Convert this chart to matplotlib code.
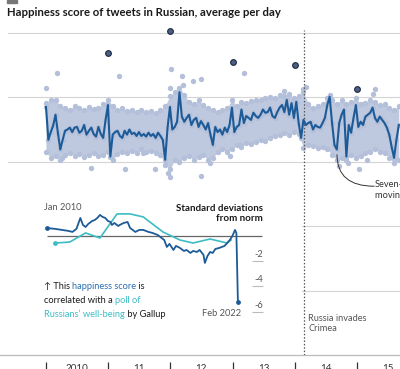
import matplotlib.pyplot as plt
from matplotlib.offsetbox import TextArea, HPacker, VPacker, AnchoredOffsetbox
from matplotlib.patches import Rectangle
import pandas as pd

plt.rcParams['font.family'] = ['Lato', 'DejaVu Sans']

# seven-day moving average, one reading every 14 days from 1 Jan 2010
ma_start = '2010-01-01'
ma_values = [5.885, 5.834, 5.846, 5.856, 5.873, 5.845, 5.819, 5.834, 5.848, 5.850,
             5.853, 5.846, 5.853, 5.854, 5.845, 5.848, 5.857, 5.842, 5.848, 5.853,
             5.843, 5.839, 5.854, 5.843, 5.837, 5.865, 5.888, 5.808, 5.842, 5.846,
             5.848, 5.840, 5.837, 5.848, 5.842, 5.850, 5.843, 5.845, 5.840, 5.846,
             5.840, 5.843, 5.839, 5.845, 5.840, 5.843, 5.837, 5.845, 5.840, 5.834,
             5.803, 5.853, 5.885, 5.850, 5.854, 5.862, 5.908, 5.870, 5.862, 5.868,
             5.873, 5.857, 5.865, 5.868, 5.854, 5.863, 5.857, 5.850, 5.860, 5.842,
             5.826, 5.854, 5.846, 5.850, 5.842, 5.853, 5.846, 5.857, 5.884, 5.846,
             5.854, 5.857, 5.881, 5.860, 5.871, 5.868, 5.865, 5.876, 5.871, 5.868,
             5.873, 5.881, 5.876, 5.877, 5.884, 5.871, 5.868, 5.877, 5.884, 5.888,
             5.877, 5.896, 5.873, 5.891, 5.868, 5.893, 5.860, 5.837, 5.865, 5.857,
             5.860, 5.862, 5.850, 5.857, 5.854, 5.853, 5.860, 5.868, 5.888, 5.901,
             5.860, 5.826, 5.819, 5.860, 5.873, 5.881, 5.808, 5.857, 5.845, 5.868,
             5.888, 5.854, 5.862, 5.857, 5.870, 5.873, 5.876, 5.884, 5.868, 5.862,
             5.870, 5.865, 5.860, 5.853, 5.842, 5.823, 5.806, 5.834, 5.857]

# range of the daily scores, highest and lowest per 28 days
daily_high = [5.891, 5.896, 5.896, 5.887, 5.884, 5.881, 5.887, 5.884, 5.881, 5.885,
              5.882, 5.884, 5.890, 5.896, 5.887, 5.881, 5.884, 5.879, 5.881, 5.877,
              5.881, 5.877, 5.879, 5.876, 5.881, 5.887, 5.902, 5.908, 5.915, 5.904,
              5.893, 5.890, 5.896, 5.888, 5.884, 5.881, 5.877, 5.881, 5.884, 5.896,
              5.887, 5.893, 5.891, 5.894, 5.896, 5.896, 5.899, 5.901, 5.899, 5.904,
              5.902, 5.905, 5.899, 5.902, 5.908, 5.890, 5.884, 5.887, 5.890, 5.899,
              5.896, 5.890, 5.896, 5.890, 5.893, 5.899, 5.890, 5.891, 5.896, 5.893,
              5.888, 5.890, 5.884, 5.881, 5.887]
daily_low = [5.815, 5.806, 5.809, 5.803, 5.811, 5.814, 5.809, 5.812, 5.808, 5.811,
             5.814, 5.809, 5.811, 5.815, 5.803, 5.812, 5.815, 5.814, 5.817, 5.814,
             5.819, 5.815, 5.817, 5.814, 5.811, 5.795, 5.788, 5.803, 5.800, 5.806,
             5.809, 5.803, 5.808, 5.811, 5.803, 5.806, 5.815, 5.819, 5.815, 5.819,
             5.826, 5.823, 5.829, 5.828, 5.831, 5.834, 5.832, 5.837, 5.840, 5.842,
             5.845, 5.842, 5.846, 5.843, 5.822, 5.826, 5.825, 5.822, 5.823, 5.819,
             5.811, 5.803, 5.806, 5.803, 5.811, 5.806, 5.809, 5.814, 5.815, 5.819,
             5.815, 5.814, 5.806, 5.798, 5.803]

# single days that stand outside the range
stray_dates = ['2010-01-01', '2010-03-07', '2010-04-05', '2010-09-22', '2011-03-06',
               '2011-04-10', '2011-07-25', '2011-10-03', '2011-12-18', '2011-12-28',
               '2011-12-30', '2012-01-05', '2012-03-10', '2012-03-14', '2012-05-13',
               '2012-06-29', '2012-07-02', '2012-08-21', '2012-12-16', '2013-02-13',
               '2013-03-09', '2013-10-30', '2014-02-18', '2014-03-08', '2014-07-27',
               '2014-09-17', '2014-11-09', '2015-01-13', '2015-03-01', '2015-04-05',
               '2015-04-17']
stray_values = [5.915, 5.938, 5.806, 5.791, 5.933, 5.788, 5.814, 5.789, 5.783, 5.777,
                5.915, 5.944, 5.933, 5.919, 5.925, 5.929, 5.778, 5.798, 5.809, 5.826,
                5.938, 5.910, 5.913, 5.916, 5.904, 5.794, 5.798, 5.788, 5.803, 5.905,
                5.913]

# New Year's Day
ny_dates = ['2011-01-01', '2012-01-01', '2013-01-01', '2014-01-01', '2015-01-01']
ny_values = [5.969, 6.003, 5.955, 5.950, 5.913]

year_labels = ['2010', '11', '12', '13', '14', '15']
crimea_date = '2014-02-27'

# inset: standard deviations from norm
happy_dates = ['2010-01-01', '2010-07-15', '2010-12-15', '2011-05-15', '2011-08-15',
               '2011-11-15', '2012-02-15', '2012-04-15', '2012-06-15', '2012-08-15',
               '2012-11-15', '2013-01-15', '2013-03-15', '2013-05-15', '2013-07-15',
               '2013-09-15', '2013-11-15', '2014-01-15', '2014-02-15', '2014-04-15',
               '2014-07-15', '2014-08-15', '2014-11-15', '2015-02-15', '2015-04-15',
               '2015-06-15', '2015-08-15', '2015-11-15', '2016-02-15', '2016-06-15',
               '2016-09-15', '2017-01-15', '2017-04-15', '2017-06-15', '2017-08-15',
               '2017-10-15', '2018-01-15', '2018-03-15', '2018-06-15', '2018-09-15',
               '2018-11-15', '2019-02-15', '2019-04-15', '2019-07-15', '2019-09-15',
               '2019-12-15', '2020-01-15', '2020-03-15', '2020-05-15', '2020-07-15',
               '2020-09-15', '2020-12-15', '2021-04-15', '2021-06-15', '2021-08-15',
               '2021-10-15', '2021-12-15', '2022-01-15', '2022-02-20']
happy_sd = [0.63, 0.56, 0.48, 0.40, 0.32, 0.56, 1.43, 0.87, 0.71, 0.95,
            1.19, 1.27, 1.43, 1.67, 1.51, 1.43, 1.19, 1.11, 0.87, 1.03,
            0.79, 0.87, 1.03, 1.11, 0.63, 0.48, 0.32, 0.48, 0.48, 0.32,
            0.24, 0.08, -0.16, -0.32, -0.87, -0.63, -1.11, -0.79, -0.95, -1.19,
            -1.11, -1.35, -1.19, -1.27, -1.11, -1.51, -2.14, -1.59, -1.27, -1.35,
            -1.03, -0.95, -0.79, -0.56, -0.32, 0.0, 0.48, 0.24, -5.24]
gallup_dates = ['2010-07-15', '2011-06-15', '2012-06-15', '2013-05-15', '2014-06-15',
                '2015-04-15', '2016-02-15', '2017-05-15', '2018-06-15', '2019-04-15',
                '2020-05-15', '2021-06-15', '2021-09-15']
gallup_sd = [-0.56, -0.48, 0.24, -0.16, 1.75, 1.75, 1.51, 0.32, -0.32, -0.56,
             -0.24, -0.56, -0.32]
sd_ticks = [-2, -4, -6]

blue = '#1d5b98'
light = '#b4c0da'
fill_c = '#bec8de'
teal = '#3dbcc4'
grey_txt = '#555555'
dark = '#1a1a1a'
fs = 6.7

fig = plt.figure(figsize=(4, 3.69), dpi=100)
fig.add_artist(Rectangle((7 / 400, 366 / 369), 10 / 400, 3 / 369,
                         transform=fig.transFigure, color='#777777'))
fig.text(7 / 400, 357 / 369, 'Happiness score of tweets in Russian, average per day',
         fontsize=8.2, fontweight='bold', color=dark, ha='left', va='center')

# main chart
ax = fig.add_axes([0, 14 / 369, 1, 335 / 369])
jan = pd.Timestamp('2010-01-01')
ax.set_xlim(jan - pd.Timedelta(days=270), jan + pd.Timedelta(days=2079))
ax.set_ylim(5.5, 6.02)
for s in ax.spines.values():
    s.set_visible(False)
ax.spines['bottom'].set_position(('outward', 5))
ax.set_yticks([])

for v in [5.6, 5.7, 5.8, 5.9, 6.0]:
    ax.axhline(v, xmin=8 / 400, xmax=1, color='#d4d4d4', lw=0.8, zorder=0)
ax.axhline(5.5, color='#bbbbbb', lw=0.9, zorder=0, clip_on=False)

ma_dates = pd.date_range(ma_start, periods=len(ma_values), freq='14D')
band_dates = pd.date_range(ma_start, periods=len(daily_high), freq='28D')
ax.fill_between(band_dates, daily_low, daily_high, color=fill_c, lw=0, zorder=1)
ax.scatter(band_dates, daily_high, s=15, color=light, lw=0, zorder=1)
ax.scatter(band_dates, daily_low, s=15, color=light, lw=0, zorder=1)
ax.scatter(ma_dates, ma_values, s=15, color=light, lw=0, zorder=1)
ax.scatter(pd.to_datetime(stray_dates), stray_values, s=15, color=light, lw=0, zorder=1)
ax.plot(ma_dates, ma_values, color=blue, lw=1.5, zorder=3)
ax.scatter(pd.to_datetime(ny_dates), ny_values, s=17, color='#4e5e7e',
           edgecolor='#1b2a44', lw=0.8, zorder=4)

crimea = pd.Timestamp(crimea_date)
ax.axvline(crimea, ymin=0, ymax=(6.005 - 5.5) / 0.52, color=grey_txt, lw=0.9,
           ls=(0, (1.2, 1.5)), zorder=2)
ax.annotate('Russia invades\nCrimea', xy=(crimea, 5.5), xytext=(4, 22),
            textcoords='offset pixels', ha='left', va='bottom', fontsize=fs,
            color=grey_txt, linespacing=1.2)

ax.annotate('', xy=(pd.Timestamp('2014-09-06'), 5.811),
            xytext=(pd.Timestamp('2015-04-12'), 5.762),
            arrowprops=dict(arrowstyle='-', color='#333333', lw=0.7, shrinkA=0,
                            shrinkB=0, connectionstyle='angle3,angleA=0,angleB=90'))
ax.text(pd.Timestamp('2015-04-17'), 5.771, 'Seven-day\nmoving average', fontsize=fs,
        color='#333333', ha='left', va='top', linespacing=1.2)

years = pd.date_range('2010-01-01', periods=6, freq='YS')
mids = years + pd.Timedelta(days=182)
ax.set_xticks(years, labels=[''] * 6)
ax.set_xticks(mids, labels=year_labels, minor=True)
ax.tick_params(axis='x', which='major', length=10, width=0.9, color='#333333')
ax.tick_params(axis='x', which='minor', length=0, pad=1.5, labelsize=fs + 0.4,
               labelcolor='#333333')

# inset
axin = fig.add_axes([0, 16 / 369, 302 / 400, 161 / 369], facecolor='white')
axin.set_zorder(2)
axin.set_xlim(jan - pd.Timedelta(days=1091), jan + pd.Timedelta(days=5921))
axin.set_ylim(-9.29, 3.49)
for s in axin.spines.values():
    s.set_visible(False)
axin.set_xticks([])
axin.set_yticks([])

axin.hlines(0, pd.Timestamp('2010-01-01'), pd.Timestamp('2023-09-01'),
            color='#666666', lw=0.9, zorder=1)
for t in sd_ticks:
    axin.hlines(t, pd.Timestamp('2023-01-13'), pd.Timestamp('2023-09-25'),
                color='#bbbbbb', lw=0.8)
    axin.annotate(str(t), xy=(pd.Timestamp('2023-09-25'), t), xytext=(0, 2),
                  textcoords='offset pixels', ha='right', va='bottom',
                  fontsize=fs, color=grey_txt)

hd = pd.to_datetime(happy_dates)
gd = pd.to_datetime(gallup_dates)
axin.plot(gd, gallup_sd, color=teal, lw=1.2, zorder=2)
axin.scatter(gd[:1], gallup_sd[:1], s=12, color=teal, lw=0, zorder=3)
axin.plot(hd, happy_sd, color=blue, lw=1.3, zorder=3)
axin.scatter(hd[[0, -1]], [happy_sd[0], happy_sd[-1]], s=12, color=blue, lw=0, zorder=4)

axin.annotate('Jan 2010', xy=(hd[0], happy_sd[0]), xytext=(-3, 21),
              textcoords='offset pixels', ha='left', va='center', fontsize=fs,
              color=grey_txt)
axin.annotate('Feb 2022', xy=(hd[-1], happy_sd[-1]), xytext=(-16, -12),
              textcoords='offset pixels', ha='center', va='center', fontsize=fs,
              color=grey_txt)
axin.text(pd.Timestamp('2023-09-25'), 1.79, 'Standard deviations\nfrom norm',
          ha='right', va='center', fontsize=fs + 0.3, fontweight='bold',
          color=dark, linespacing=1.25)

hb = '#2a6fb0'
def piece(s, c):
    return TextArea(s, textprops=dict(color=c, fontsize=fs))
lines = [HPacker(children=[piece('\u2191 This ', dark), piece('happiness score', hb),
                           piece(' is', dark)], sep=0, pad=0),
         HPacker(children=[piece('correlated with a ', dark), piece('poll of', teal)],
                 sep=0, pad=0),
         HPacker(children=[piece('Russians\u2019 well-being', teal),
                           piece(' by Gallup', dark)], sep=0, pad=0)]
box = AnchoredOffsetbox(loc='upper left', child=VPacker(children=lines, sep=3.5, pad=0),
                        bbox_to_anchor=(44 / 400, 87 / 369),
                        bbox_transform=fig.transFigure, frameon=False,
                        borderpad=0, pad=0)
box.set_zorder(5)
axin.add_artist(box)

fig.savefig('out.png', dpi=100)
